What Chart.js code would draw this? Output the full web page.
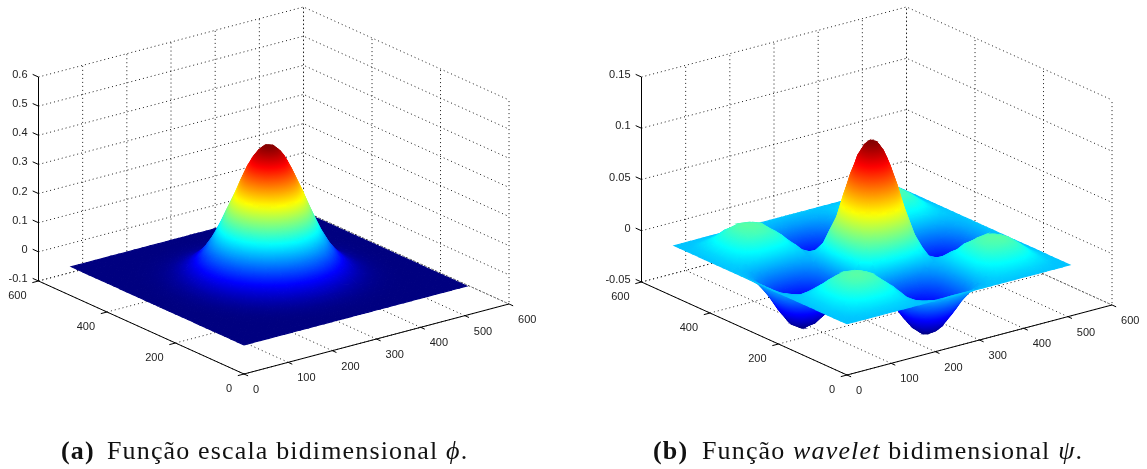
<!DOCTYPE html>
<html>
<head>
<meta charset="utf-8">
<script src="https://cdn.jsdelivr.net/npm/chart.js@4"></script>
<style>
  html, body { margin: 0; padding: 0; background: #fff; }
  body { position: relative; width: 1147px; height: 469px; overflow: hidden; }
  canvas { position: absolute; top: 0; }
  .cap { position: absolute; top: 434px; white-space: nowrap; color: #111;
         font-family: "Liberation Serif", serif; font-size: 26px; line-height: 34px; letter-spacing: 1.15px; }
  .cap span { position: absolute; top: 0; }
</style>
</head>
<body>
<canvas id="phi-chart" width="574" height="469" style="left:0"></canvas>
<canvas id="psi-chart" width="573" height="469" style="left:574px"></canvas>
<div class="cap" style="left:61px"><b>(a)</b><span style="left:46px">Função escala bidimensional <i>ϕ</i>.</span></div>
<div class="cap" style="left:653px"><b>(b)</b><span style="left:49px">Função <i>wavelet</i> bidimensional <i>ψ</i>.</span></div>
<script>
var gridPos = [0,18,36,54,72,90,108,126,144,162,180,198,216,225,234,243,252,261,270,279,288,306,324,342,360,378,396,414,432,450,468,486,504];

// surface heights in thousandths
var phiZ = [
  [0,0,0,0,0,0,0,0,0,0,0,0,0,0,0,0,0,0,0,0,0,0,0,0,0,0,0,0,0,0,0,0,0],
  [0,0,0,0,0,0,0,0,0,0,0,0,0,0,0,0,0,0,0,0,0,0,0,0,0,0,0,0,0,0,0,0,0],
  [0,0,0,0,0,0,0,0,0,0,0,1,1,1,1,1,1,1,1,1,1,1,0,0,0,0,0,0,0,0,0,0,0],
  [0,0,0,0,0,0,0,0,1,1,2,2,3,3,3,3,3,3,3,3,3,2,2,1,1,0,0,0,0,0,0,0,0],
  [0,0,0,0,0,0,1,1,2,3,4,6,7,7,8,8,8,8,8,7,7,6,4,3,2,1,1,0,0,0,0,0,0],
  [0,0,0,0,0,1,1,3,4,7,10,13,15,16,17,18,18,18,17,16,15,13,10,7,4,3,1,1,0,0,0,0,0],
  [0,0,0,0,1,1,3,5,9,13,19,25,31,33,35,36,36,36,35,33,31,25,19,13,9,5,3,1,1,0,0,0,0],
  [0,0,0,0,1,3,5,9,16,24,35,46,55,60,63,65,65,65,63,60,55,46,35,24,16,9,5,3,1,0,0,0,0],
  [0,0,0,1,2,4,9,16,26,40,57,76,92,99,104,107,108,107,104,99,92,76,57,40,26,16,9,4,2,1,0,0,0],
  [0,0,0,1,3,7,13,24,40,62,88,117,142,152,160,165,167,165,160,152,142,117,88,62,40,24,13,7,3,1,0,0,0],
  [0,0,0,2,4,10,19,35,57,88,126,167,203,218,229,236,239,236,229,218,203,167,126,88,57,35,19,10,4,2,0,0,0],
  [0,0,1,2,6,13,25,46,76,117,167,221,268,288,302,312,315,312,302,288,268,221,167,117,76,46,25,13,6,2,1,0,0],
  [0,0,1,3,7,15,31,55,92,142,203,268,325,350,367,379,383,379,367,350,325,268,203,142,92,55,31,15,7,3,1,0,0],
  [0,0,1,3,7,16,33,60,99,152,218,288,350,377,395,408,412,408,395,377,350,288,218,152,99,60,33,16,7,3,1,0,0],
  [0,0,1,3,8,17,35,63,104,160,229,302,367,395,415,428,432,428,415,395,367,302,229,160,104,63,35,17,8,3,1,0,0],
  [0,0,1,3,8,18,36,65,107,165,236,312,379,408,428,441,446,441,428,408,379,312,236,165,107,65,36,18,8,3,1,0,0],
  [0,0,1,3,8,18,36,65,108,167,239,315,383,412,432,446,450,446,432,412,383,315,239,167,108,65,36,18,8,3,1,0,0],
  [0,0,1,3,8,18,36,65,107,165,236,312,379,408,428,441,446,441,428,408,379,312,236,165,107,65,36,18,8,3,1,0,0],
  [0,0,1,3,8,17,35,63,104,160,229,302,367,395,415,428,432,428,415,395,367,302,229,160,104,63,35,17,8,3,1,0,0],
  [0,0,1,3,7,16,33,60,99,152,218,288,350,377,395,408,412,408,395,377,350,288,218,152,99,60,33,16,7,3,1,0,0],
  [0,0,1,3,7,15,31,55,92,142,203,268,325,350,367,379,383,379,367,350,325,268,203,142,92,55,31,15,7,3,1,0,0],
  [0,0,1,2,6,13,25,46,76,117,167,221,268,288,302,312,315,312,302,288,268,221,167,117,76,46,25,13,6,2,1,0,0],
  [0,0,0,2,4,10,19,35,57,88,126,167,203,218,229,236,239,236,229,218,203,167,126,88,57,35,19,10,4,2,0,0,0],
  [0,0,0,1,3,7,13,24,40,62,88,117,142,152,160,165,167,165,160,152,142,117,88,62,40,24,13,7,3,1,0,0,0],
  [0,0,0,1,2,4,9,16,26,40,57,76,92,99,104,107,108,107,104,99,92,76,57,40,26,16,9,4,2,1,0,0,0],
  [0,0,0,0,1,3,5,9,16,24,35,46,55,60,63,65,65,65,63,60,55,46,35,24,16,9,5,3,1,0,0,0,0],
  [0,0,0,0,1,1,3,5,9,13,19,25,31,33,35,36,36,36,35,33,31,25,19,13,9,5,3,1,1,0,0,0,0],
  [0,0,0,0,0,1,1,3,4,7,10,13,15,16,17,18,18,18,17,16,15,13,10,7,4,3,1,1,0,0,0,0,0],
  [0,0,0,0,0,0,1,1,2,3,4,6,7,7,8,8,8,8,8,7,7,6,4,3,2,1,1,0,0,0,0,0,0],
  [0,0,0,0,0,0,0,0,1,1,2,2,3,3,3,3,3,3,3,3,3,2,2,1,1,0,0,0,0,0,0,0,0],
  [0,0,0,0,0,0,0,0,0,0,0,1,1,1,1,1,1,1,1,1,1,1,0,0,0,0,0,0,0,0,0,0,0],
  [0,0,0,0,0,0,0,0,0,0,0,0,0,0,0,0,0,0,0,0,0,0,0,0,0,0,0,0,0,0,0,0,0],
  [0,0,0,0,0,0,0,0,0,0,0,0,0,0,0,0,0,0,0,0,0,0,0,0,0,0,0,0,0,0,0,0,0]
];

var psiZ = [
  [0,0,0,0,0,0,0,0,0,0,0,0,0,0,0,0,0,0,0,0,0,0,0,0,0,0,0,0,0,0,0,0,0],
  [0,0,1,2,3,3,3,3,2,1,-1,-3,-5,-6,-6,-7,-7,-7,-6,-6,-5,-3,-1,1,2,3,3,3,3,2,1,0,0],
  [0,1,4,6,8,9,9,8,6,2,-3,-9,-15,-17,-19,-20,-20,-20,-19,-17,-15,-9,-3,2,6,8,9,9,8,6,4,1,0],
  [0,2,6,11,15,16,16,14,10,4,-5,-16,-26,-30,-33,-35,-36,-35,-33,-30,-26,-16,-5,4,10,14,16,16,15,11,6,2,0],
  [0,3,8,15,20,22,21,19,13,6,-7,-21,-34,-40,-44,-46,-47,-46,-44,-40,-34,-21,-7,6,13,19,21,22,20,15,8,3,0],
  [0,3,9,16,22,24,23,21,14,6,-7,-23,-37,-43,-48,-51,-52,-51,-48,-43,-37,-23,-7,6,14,21,23,24,22,16,9,3,0],
  [0,3,9,16,21,23,23,20,14,6,-7,-22,-36,-42,-47,-49,-50,-49,-47,-42,-36,-22,-7,6,14,20,23,23,21,16,9,3,0],
  [0,3,8,14,19,21,20,18,13,5,-6,-20,-32,-38,-42,-44,-45,-44,-42,-38,-32,-20,-6,5,13,18,20,21,19,14,8,3,0],
  [0,2,6,10,13,14,14,13,9,4,-4,-14,-23,-26,-29,-31,-31,-31,-29,-26,-23,-14,-4,4,9,13,14,14,13,10,6,2,0],
  [0,1,2,4,6,6,6,5,4,2,-2,-6,-10,-11,-12,-13,-13,-13,-12,-11,-10,-6,-2,2,4,5,6,6,6,4,2,1,0],
  [0,-1,-3,-5,-7,-7,-7,-6,-4,-2,2,7,11,13,15,15,16,15,15,13,11,7,2,-2,-4,-6,-7,-7,-7,-5,-3,-1,0],
  [0,-3,-9,-16,-21,-23,-22,-20,-14,-6,7,22,35,41,46,48,49,48,46,41,35,22,7,-6,-14,-20,-22,-23,-21,-16,-9,-3,0],
  [0,-5,-15,-26,-34,-37,-36,-32,-23,-10,11,35,58,68,75,79,81,79,75,68,58,35,11,-10,-23,-32,-36,-37,-34,-26,-15,-5,0],
  [0,-6,-17,-30,-40,-43,-42,-38,-26,-11,13,41,68,79,87,92,94,92,87,79,68,41,13,-11,-26,-38,-42,-43,-40,-30,-17,-6,0],
  [0,-6,-19,-33,-44,-48,-47,-42,-29,-12,15,46,75,87,97,102,104,102,97,87,75,46,15,-12,-29,-42,-47,-48,-44,-33,-19,-6,0],
  [0,-7,-20,-35,-46,-51,-49,-44,-31,-13,15,48,79,92,102,108,110,108,102,92,79,48,15,-13,-31,-44,-49,-51,-46,-35,-20,-7,0],
  [0,-7,-20,-36,-47,-52,-50,-45,-31,-13,16,49,81,94,104,110,112,110,104,94,81,49,16,-13,-31,-45,-50,-52,-47,-36,-20,-7,0],
  [0,-7,-20,-35,-46,-51,-49,-44,-31,-13,15,48,79,92,102,108,110,108,102,92,79,48,15,-13,-31,-44,-49,-51,-46,-35,-20,-7,0],
  [0,-6,-19,-33,-44,-48,-47,-42,-29,-12,15,46,75,87,97,102,104,102,97,87,75,46,15,-12,-29,-42,-47,-48,-44,-33,-19,-6,0],
  [0,-6,-17,-30,-40,-43,-42,-38,-26,-11,13,41,68,79,87,92,94,92,87,79,68,41,13,-11,-26,-38,-42,-43,-40,-30,-17,-6,0],
  [0,-5,-15,-26,-34,-37,-36,-32,-23,-10,11,35,58,68,75,79,81,79,75,68,58,35,11,-10,-23,-32,-36,-37,-34,-26,-15,-5,0],
  [0,-3,-9,-16,-21,-23,-22,-20,-14,-6,7,22,35,41,46,48,49,48,46,41,35,22,7,-6,-14,-20,-22,-23,-21,-16,-9,-3,0],
  [0,-1,-3,-5,-7,-7,-7,-6,-4,-2,2,7,11,13,15,15,16,15,15,13,11,7,2,-2,-4,-6,-7,-7,-7,-5,-3,-1,0],
  [0,1,2,4,6,6,6,5,4,2,-2,-6,-10,-11,-12,-13,-13,-13,-12,-11,-10,-6,-2,2,4,5,6,6,6,4,2,1,0],
  [0,2,6,10,13,14,14,13,9,4,-4,-14,-23,-26,-29,-31,-31,-31,-29,-26,-23,-14,-4,4,9,13,14,14,13,10,6,2,0],
  [0,3,8,14,19,21,20,18,13,5,-6,-20,-32,-38,-42,-44,-45,-44,-42,-38,-32,-20,-6,5,13,18,20,21,19,14,8,3,0],
  [0,3,9,16,21,23,23,20,14,6,-7,-22,-36,-42,-47,-49,-50,-49,-47,-42,-36,-22,-7,6,14,20,23,23,21,16,9,3,0],
  [0,3,9,16,22,24,23,21,14,6,-7,-23,-37,-43,-48,-51,-52,-51,-48,-43,-37,-23,-7,6,14,21,23,24,22,16,9,3,0],
  [0,3,8,15,20,22,21,19,13,6,-7,-21,-34,-40,-44,-46,-47,-46,-44,-40,-34,-21,-7,6,13,19,21,22,20,15,8,3,0],
  [0,2,6,11,15,16,16,14,10,4,-5,-16,-26,-30,-33,-35,-36,-35,-33,-30,-26,-16,-5,4,10,14,16,16,15,11,6,2,0],
  [0,1,4,6,8,9,9,8,6,2,-3,-9,-15,-17,-19,-20,-20,-20,-19,-17,-15,-9,-3,2,6,8,9,9,8,6,4,1,0],
  [0,0,1,2,3,3,3,3,2,1,-1,-3,-5,-6,-6,-7,-7,-7,-6,-6,-5,-3,-1,1,2,3,3,3,3,2,1,0,0],
  [0,0,0,0,0,0,0,0,0,0,0,0,0,0,0,0,0,0,0,0,0,0,0,0,0,0,0,0,0,0,0,0,0]
];

var xTicks = [0,100,200,300,400,500,600];
var yTicks = [0,200,400,600];
var phiZTicks = [-0.1,0,0.1,0.2,0.3,0.4,0.5,0.6];
var psiZTicks = [-0.05,0,0.05,0.1,0.15];

// view of the box: MATLAB default azimuth/elevation, measured in px per data unit
function makeView(ox, oy, zMin, zMax, zPx, cMin, cMax) {
  return {
    zMin: zMin, zMax: zMax, cMin: cMin, cMax: cMax,
    at: function (x, y, z) {
      return { x: ox + 0.4417 * x - 0.3425 * y, y: oy - 0.1167 * x - 0.155 * y - (z - zMin) * zPx };
    }
  };
}

function jet(t) {
  t = Math.max(0, Math.min(1, t));
  function c(v) { return Math.round(255 * Math.max(0, Math.min(1, 1.5 - Math.abs(v)))); }
  return 'rgb(' + c(4 * t - 3) + ',' + c(4 * t - 2) + ',' + c(4 * t - 1) + ')';
}

// gradient across one quad, following the slope of z on screen
function cellGradient(chart, view, p, z) {
  var sx = chart.scales.x, sy = chart.scales.y;
  var px = p.map(function (q) { return { x: sx.getPixelForValue(q.x), y: sy.getPixelForValue(q.y) }; });
  var lo = Math.min.apply(null, z), hi = Math.max.apply(null, z);
  // scales have no size yet during the first reset pass
  if (!isFinite(px[0].x) || !isFinite(px[0].y) || hi === lo) return jet((lo - view.cMin) / (view.cMax - view.cMin));
  var iLo = z.indexOf(lo), iHi = z.indexOf(hi);
  var x0 = px[iLo].x, y0 = px[iLo].y, x1 = px[iHi].x, y1 = px[iHi].y;

  var ux = (px[1].x + px[2].x - px[0].x - px[3].x) / 2, uy = (px[1].y + px[2].y - px[0].y - px[3].y) / 2;
  var vx = (px[3].x + px[2].x - px[0].x - px[1].x) / 2, vy = (px[3].y + px[2].y - px[0].y - px[1].y) / 2;
  var du = (z[1] + z[2] - z[0] - z[3]) / 2, dv = (z[3] + z[2] - z[0] - z[1]) / 2;
  var det = ux * vy - uy * vx;
  if (Math.abs(det) > 4 && (du !== 0 || dv !== 0)) {
    var gx = (du * vy - dv * uy) / det, gy = (dv * ux - du * vx) / det;
    var g2 = gx * gx + gy * gy;
    var cx = (px[0].x + px[1].x + px[2].x + px[3].x) / 4, cy = (px[0].y + px[1].y + px[2].y + px[3].y) / 4;
    var zc = (z[0] + z[1] + z[2] + z[3]) / 4;
    x0 = cx + gx * (lo - zc) / g2; y0 = cy + gy * (lo - zc) / g2;
    x1 = cx + gx * (hi - zc) / g2; y1 = cy + gy * (hi - zc) / g2;
  }
  if (x0 === x1 && y0 === y1) y1 += 1;
  var grad = chart.ctx.createLinearGradient(x0, y0, x1, y1);
  for (var k = 0; k <= 8; k++) {
    var zk = lo + (hi - lo) * k / 8;
    grad.addColorStop(k / 8, jet((zk - view.cMin) / (view.cMax - view.cMin)));
  }
  return grad;
}

function surfaceSets(view, rows) {
  var sets = [], n = gridPos.length;
  for (var j = 0; j < n - 1; j++) {
    for (var i = 0; i < n - 1; i++) {
      (function (i, j) {
        var z = [rows[j][i] / 1000, rows[j][i + 1] / 1000, rows[j + 1][i + 1] / 1000, rows[j + 1][i] / 1000];
        var p = [
          view.at(gridPos[i], gridPos[j], z[0]),
          view.at(gridPos[i + 1], gridPos[j], z[1]),
          view.at(gridPos[i + 1], gridPos[j + 1], z[2]),
          view.at(gridPos[i], gridPos[j + 1], z[3])
        ];
        var paint = function (c) { return cellGradient(c.chart, view, p, z); };
        sets.push({
          data: p.concat([p[0]]),
          showLine: true, fill: 'shape', pointRadius: 0, borderWidth: 1.2,
          backgroundColor: paint, borderColor: paint,
          order: j * n + i   // back cells get the high order, so they are painted first
        });
      })(i, j);
    }
  }
  return sets;
}

function line(points, dotted, order) {
  return {
    data: points, showLine: true, pointRadius: 0, fill: false,
    borderColor: dotted ? '#1c1c1c' : '#000', borderWidth: 1,
    borderDash: dotted ? [1, 3] : [],
    order: order
  };
}

function boxSets(view, zTicks) {
  var sets = [], GRID = 1e6;
  var z0 = view.zMin, z1 = view.zMax;
  xTicks.forEach(function (x) {
    sets.push(line([view.at(x, 0, z0), view.at(x, 600, z0), view.at(x, 600, z1)], true, GRID));
  });
  yTicks.forEach(function (y) {
    sets.push(line([view.at(0, y, z0), view.at(600, y, z0), view.at(600, y, z1)], true, GRID));
  });
  zTicks.forEach(function (z) {
    sets.push(line([view.at(0, 600, z), view.at(600, 600, z), view.at(600, 0, z)], true, GRID));
  });
  // solid axes and their tick marks
  sets.push(line([view.at(0, 600, z1), view.at(0, 600, z0), view.at(0, 0, z0), view.at(600, 0, z0)], false, GRID - 1));
  xTicks.forEach(function (x) { sets.push(line([view.at(x, 0, z0), view.at(x, -12, z0)], false, GRID - 1)); });
  yTicks.forEach(function (y) { sets.push(line([view.at(0, y, z0), view.at(-14, y, z0)], false, GRID - 1)); });
  zTicks.forEach(function (z) { sets.push(line([view.at(0, 600, z), view.at(0, 617, z)], false, GRID - 1)); });
  return sets;
}

// tick labels, placed through the same scales as the marks
function tickLabels(view, zTicks) {
  return {
    id: 'tickLabels',
    afterDraw: function (chart) {
      var ctx = chart.ctx, sx = chart.scales.x, sy = chart.scales.y;
      function put(v, text, dx, dy, align) {
        ctx.textAlign = align;
        ctx.fillText(text, sx.getPixelForValue(v.x) + dx, sy.getPixelForValue(v.y) + dy);
      }
      ctx.save();
      ctx.font = '11px "Liberation Sans", Arial, sans-serif';
      ctx.fillStyle = '#222';
      ctx.textBaseline = 'middle';
      xTicks.forEach(function (x) { put(view.at(x, 0, view.zMin), String(x), 9, 16, 'left'); });
      yTicks.forEach(function (y) { put(view.at(0, y, view.zMin), String(y), -12, 15, 'right'); });
      zTicks.forEach(function (z) { put(view.at(0, 600, z), String(z), -11, -2, 'right'); });
      ctx.restore();
    }
  };
}

function draw(id, view, rows, zTicks, width) {
  new Chart(document.getElementById(id), {
    type: 'scatter',
    data: { datasets: boxSets(view, zTicks).concat(surfaceSets(view, rows)) },
    options: {
      responsive: false,
      animation: false,
      events: [],
      layout: { padding: 0 },
      plugins: { legend: { display: false }, tooltip: { enabled: false } },
      scales: {
        x: { type: 'linear', display: false, min: 0, max: width },
        y: { type: 'linear', display: false, min: 0, max: 469, reverse: true }
      }
    },
    plugins: [tickLabels(view, zTicks)]
  });
}

draw('phi-chart', makeView(244, 374, -0.1, 0.6, 291.4, 0, 0.45), phiZ, phiZTicks, 574);
draw('psi-chart', makeView(273, 375, -0.05, 0.15, 1025, -0.052, 0.112), psiZ, psiZTicks, 573);
</script>
</body>
</html>
